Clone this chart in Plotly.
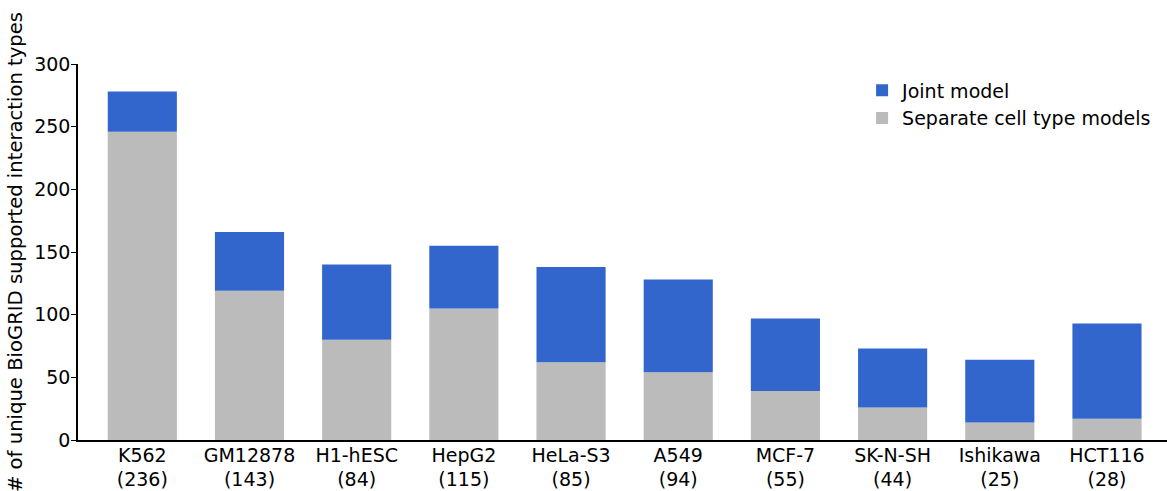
import plotly.graph_objects as go

# Cell types and number of training factors per cell type
cell_types = ["K562", "GM12878", "H1-hESC", "HepG2", "HeLa-S3",
              "A549", "MCF-7", "SK-N-SH", "Ishikawa", "HCT116"]
factor_counts = [236, 143, 84, 115, 85, 94, 55, 44, 25, 28]

# Unique BioGRID-supported interaction types recovered by each approach
joint_model = [278, 166, 140, 155, 138, 128, 97, 73, 64, 93]
separate_models = [246, 119, 80, 105, 62, 54, 39, 26, 14, 17]

x_pos = list(range(len(cell_types)))
joint_extra = [j - s for j, s in zip(joint_model, separate_models)]
tick_text = [f"{c}<br>({n})" for c, n in zip(cell_types, factor_counts)]

FONT = "DejaVu Sans"
FS = 19
BLUE = "#3366CC"
GRAY = "#BBBBBB"
BAR_W = 0.645

fig = go.Figure()
# Separate-model counts at the bottom, joint-model total drawn on top of them
fig.add_trace(go.Bar(
    x=x_pos, y=separate_models, name="Separate cell type models",
    marker=dict(color=GRAY, line=dict(width=0)), width=BAR_W,
))
fig.add_trace(go.Bar(
    x=x_pos, y=joint_extra, base=separate_models, name="Joint model",
    marker=dict(color=BLUE, line=dict(width=0)), width=BAR_W,
    customdata=joint_model, hovertemplate="%{customdata}<extra>Joint model</extra>",
))

fig.update_layout(
    width=1167, height=491,
    margin=dict(l=78, r=0, t=64, b=51),
    barmode="overlay",
    plot_bgcolor="white", paper_bgcolor="white",
    font=dict(family=FONT, size=FS, color="black"),
    showlegend=True,
    legend=dict(
        x=0.72, y=0.98, xanchor="left", yanchor="top",
        font=dict(family=FONT, size=FS, color="black"),
        bgcolor="rgba(0,0,0,0)", traceorder="reversed",
        itemsizing="constant", tracegroupgap=0,
    ),
    xaxis=dict(
        range=[-0.6, 9.56],
        tickmode="array", tickvals=x_pos, ticktext=tick_text,
        showline=True, linecolor="black", linewidth=1.5,
        ticks="", showgrid=False, zeroline=False,
        ticklabelstandoff=-3,
        tickfont=dict(family=FONT, size=FS, color="black"),
    ),
    yaxis=dict(
        range=[0, 300],
        tickmode="array", tickvals=[0, 50, 100, 150, 200, 250, 300],
        showline=True, linecolor="black", linewidth=1.5,
        ticks="outside", ticklen=5, tickwidth=1.2, tickcolor="black",
        ticklabelstandoff=-3,
        showgrid=False, zeroline=False,
        tickfont=dict(family=FONT, size=FS, color="black"),
        title=dict(text="# of unique BioGRID supported interaction types",
                   font=dict(family=FONT, size=19.6, color="black"),
                   standoff=6),
    ),
)

fig.write_html("out.html")
